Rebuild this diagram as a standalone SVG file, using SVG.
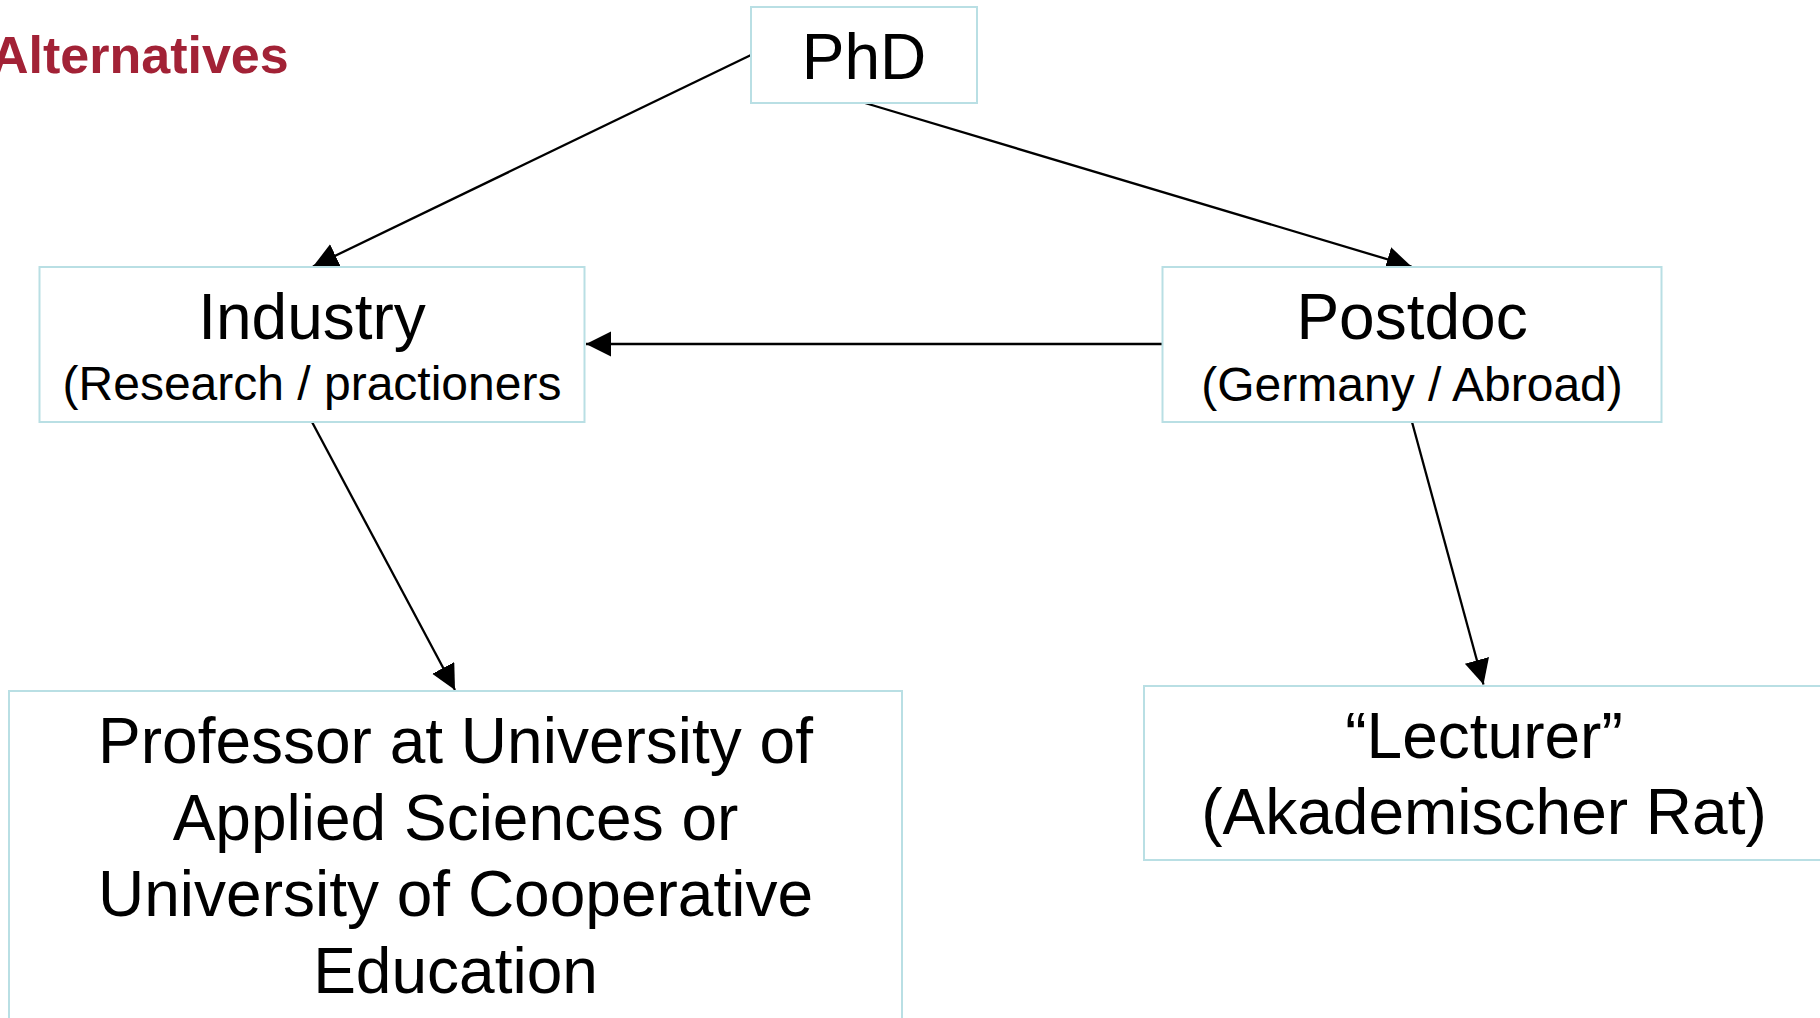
<svg xmlns="http://www.w3.org/2000/svg" width="1820" height="1018" viewBox="0 0 1820 1018">
<defs>
<style>
.box{fill:#fff;stroke:#b9dfe4;stroke-width:2}
.t{font-family:"Liberation Sans",Arial,sans-serif;fill:#000;text-anchor:middle}
.big{font-size:64px}
.sub{font-size:48px}
.edge{stroke:#000;stroke-width:2.3;fill:none;marker-end:url(#ah)}
.title{font-family:"Liberation Sans",Arial,sans-serif;font-weight:bold;font-size:52px;fill:#a22236}
</style>
<marker id="ah" markerUnits="userSpaceOnUse" markerWidth="26" markerHeight="26" refX="25" refY="12.5" orient="auto" viewBox="0 0 26 26">
<path d="M0,0 L25,12.5 L0,25 z" fill="#000"/>
</marker>
</defs>
<rect width="1820" height="1018" fill="#fff"/>
<text class="title" x="-9" y="73">Alternatives</text>
<g id="connectors">
<line class="edge" x1="751" y1="55" x2="313" y2="266.5"/>
<line class="edge" x1="865" y1="103" x2="1411.5" y2="266.5"/>
<line class="edge" x1="1162" y1="344" x2="586" y2="344"/>
<line class="edge" x1="312" y1="422" x2="455" y2="690"/>
<line class="edge" x1="1412" y1="422" x2="1483.5" y2="684.5"/>
</g>
<g id="phd">
<rect class="box" x="751" y="7" width="226" height="96"/>
<text class="t big" x="864" y="79">PhD</text>
</g>
<g id="industry">
<rect class="box" x="39.5" y="267" width="545" height="155"/>
<text class="t big" x="312" y="339">Industry</text>
<text class="t sub" x="312" y="400">(Research / practioners</text>
</g>
<g id="postdoc">
<rect class="box" x="1162.5" y="267" width="499" height="155"/>
<text class="t big" x="1412" y="339">Postdoc</text>
<text class="t sub" x="1412" y="400.5">(Germany / Abroad)</text>
</g>
<g id="professor">
<rect class="box" x="9" y="691" width="893" height="340"/>
<text class="t big" x="455.5" y="763">Professor at University of</text>
<text class="t big" x="455.5" y="839.5">Applied Sciences or</text>
<text class="t big" x="455.5" y="916">University of Cooperative</text>
<text class="t big" x="455.5" y="993">Education</text>
</g>
<g id="lecturer">
<rect class="box" x="1144" y="686" width="680" height="174"/>
<text class="t big" x="1484" y="757.5">“Lecturer”</text>
<text class="t big" x="1484" y="833.5">(Akademischer Rat)</text>
</g>
</svg>
